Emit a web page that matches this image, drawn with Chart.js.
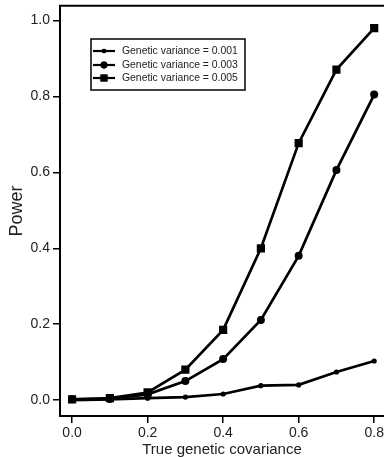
<!DOCTYPE html>
<html>
<head>
<meta charset="utf-8">
<script src="https://cdn.jsdelivr.net/npm/chart.js@4"></script>
<style>
  html, body { margin: 0; padding: 0; background: #fff; overflow: hidden; }
  #wrap { width: 384px; height: 457px; overflow: hidden; }
</style>
</head>
<body>
<div id="wrap"><canvas id="myChart" width="404" height="457"></canvas></div>
<script>
// datos
const covariance = [0.0, 0.1, 0.2, 0.3, 0.4, 0.5, 0.6, 0.7, 0.8];
const power001 = [0.000, 0.002, 0.005, 0.008, 0.016, 0.038, 0.040, 0.074, 0.103];
const power003 = [0.002, 0.003, 0.015, 0.050, 0.108, 0.211, 0.380, 0.606, 0.805];
const power005 = [0.002, 0.005, 0.020, 0.080, 0.185, 0.400, 0.677, 0.871, 0.980];

const seriesLabels = ['Genetic variance = 0.001', 'Genetic variance = 0.003', 'Genetic variance = 0.005'];
const xTicks = [0.0, 0.2, 0.4, 0.6, 0.8];
const yTicks = [0.0, 0.2, 0.4, 0.6, 0.8, 1.0];

const FONT = '"Liberation Sans", Arial, Helvetica, sans-serif';

function toPoints(values) {
  let pts = [];
  for (var i = 0; i < covariance.length; i++) {
    pts.push({ x: covariance[i], y: values[i] });
  }
  return pts;
}

function makeDataset(label, values, style, radius) {
  return {
    label: label,
    data: toPoints(values),
    showLine: true,
    borderColor: '#000',
    backgroundColor: '#000',
    borderWidth: 2.7,
    pointStyle: style,
    pointRadius: radius,
    pointHoverRadius: radius,
    pointBorderWidth: 0,
    tension: 0
  };
}

// linea superior del marco (la figura original esta recortada a la derecha)
const framePlugin = {
  id: 'frame',
  afterDraw(chart) {
    let ctx = chart.ctx;
    let a = chart.chartArea;
    ctx.save();
    ctx.strokeStyle = '#000';
    ctx.lineWidth = 2;
    ctx.beginPath();
    ctx.moveTo(a.left - 1, a.top);
    ctx.lineTo(chart.width, a.top);
    ctx.stroke();
    ctx.restore();
  }
};

// leyenda con linea + marcador
const legendPlugin = {
  id: 'boxLegend',
  afterDraw(chart) {
    let ctx = chart.ctx;
    ctx.save();
    ctx.strokeStyle = '#000';
    ctx.lineWidth = 1.5;
    ctx.strokeRect(91, 39, 154, 51);
    let rows = [51, 65, 78];
    chart.data.datasets.forEach(function (ds, i) {
      let y = rows[i];
      ctx.strokeStyle = '#000';
      ctx.lineWidth = 2.2;
      ctx.beginPath();
      ctx.moveTo(93, y);
      ctx.lineTo(115, y);
      ctx.stroke();
      ctx.fillStyle = '#000';
      Chart.helpers.drawPoint(ctx, { pointStyle: ds.pointStyle, radius: ds.pointRadius * 0.85, borderWidth: 0 }, 104, y);
      ctx.fill();
      ctx.font = '10.4px ' + FONT;
      ctx.textBaseline = 'middle';
      ctx.textAlign = 'left';
      ctx.fillStyle = '#222';
      ctx.fillText(ds.label, 122, y + 0.5);
    });
    ctx.restore();
  }
};

function noPadding(scale) {
  scale.paddingTop = 0;
  scale.paddingBottom = 0;
  scale.paddingLeft = 0;
  scale.paddingRight = 0;
}

let ctx = document.getElementById('myChart').getContext('2d');

let myChart = new Chart(ctx, {
  type: 'scatter',
  data: {
    datasets: [
      makeDataset(seriesLabels[0], power001, 'circle', 2.6),
      makeDataset(seriesLabels[1], power003, 'circle', 4),
      makeDataset(seriesLabels[2], power005, 'rect', 5.8)
    ]
  },
  options: {
    responsive: false,
    animation: false,
    layout: { padding: { top: 5, right: 20, bottom: 0, left: 0 } },
    plugins: {
      legend: { display: false },
      tooltip: { enabled: false }
    },
    scales: {
      x: {
        type: 'linear',
        min: -0.032,
        max: 0.826,
        afterBuildTicks: function (scale) {
          scale.ticks = xTicks.map(function (v) { return { value: v }; });
        },
        afterFit: function (scale) { scale.height = 41; noPadding(scale); },
        border: { display: true, color: '#000', width: 2 },
        grid: { drawOnChartArea: false, drawTicks: true, tickLength: 7, color: '#000', lineWidth: 1.5 },
        ticks: {
          color: '#222',
          padding: 2,
          maxRotation: 0,
          font: { family: FONT, size: 14 },
          callback: function (v) { return Number(v).toFixed(1); }
        },
        title: {
          display: true,
          text: 'True genetic covariance',
          color: '#222',
          padding: { top: 0, bottom: -2 },
          font: { family: FONT, size: 15 }
        }
      },
      y: {
        type: 'linear',
        min: -0.042,
        max: 1.039,
        afterBuildTicks: function (scale) {
          scale.ticks = yTicks.map(function (v) { return { value: v }; });
        },
        afterFit: function (scale) { scale.width = 60; noPadding(scale); },
        border: { display: true, color: '#000', width: 2 },
        grid: { drawOnChartArea: false, drawTicks: true, tickLength: 7, color: '#000', lineWidth: 1.5 },
        ticks: {
          color: '#222',
          padding: 3,
          font: { family: FONT, size: 14 },
          callback: function (v) { return Number(v).toFixed(1); }
        },
        title: {
          display: true,
          text: 'Power',
          color: '#222',
          padding: { top: 6, bottom: 0 },
          font: { family: FONT, size: 18 }
        }
      }
    }
  },
  plugins: [framePlugin, legendPlugin]
});
</script>
</body>
</html>
